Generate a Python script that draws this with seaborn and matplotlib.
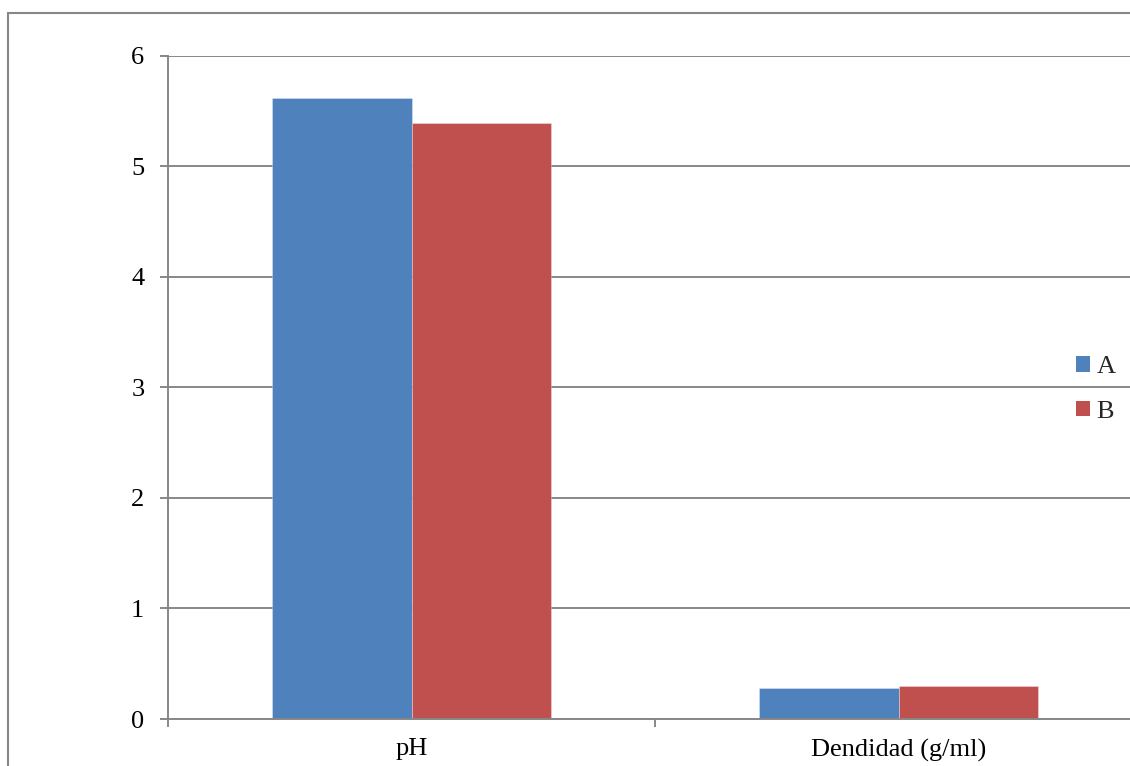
import matplotlib
matplotlib.use("Agg")
import matplotlib.pyplot as plt
from matplotlib.patches import Rectangle
from matplotlib.ticker import FixedLocator
import seaborn as sns
import pandas as pd

# Data
categories = ["pH", "Dendidad (g/ml)"]
series = ["A", "B"]
values_a = [5.62, 0.28]
values_b = [5.39, 0.30]
y_ticks = [0, 1, 2, 3, 4, 5, 6]

df = pd.DataFrame({
    "categoria": categories * 2,
    "serie": [series[0]] * len(categories) + [series[1]] * len(categories),
    "valor": values_a + values_b,
})

sns.set_theme(style="white")
plt.rcParams["font.family"] = ["Liberation Serif", "DejaVu Serif"]

W, H, DPI = 1130, 766, 100
fig = plt.figure(figsize=(W / DPI, H / DPI), dpi=DPI)
fig.patch.set_facecolor("white")

grey = "#878787"
fs = 19

ax = fig.add_axes([168 / W, 47 / H, (1142 - 168) / W, (719 - 55.7) / H])
sns.barplot(
    data=df, x="categoria", y="valor", hue="serie", order=categories,
    hue_order=series, palette=["#4F81BD", "#C0504D"], width=0.571, gap=0,
    saturation=1, ax=ax, legend=True,
)
for p in ax.patches:
    p.set_edgecolor((1, 1, 1, 0.35))
    p.set_linewidth(0.6)

ax.set_xlim(-0.5, 1.5)
ax.set_ylim(0, 6)
ax.set_yticks(y_ticks)
ax.set_yticklabels([str(t) for t in y_ticks])
ax.set_xlabel("")
ax.set_ylabel("")

ax.yaxis.grid(True, color=grey, linewidth=1.4)
ax.xaxis.grid(False)
ax.set_axisbelow(True)

for side in ["top", "right"]:
    ax.spines[side].set_visible(False)
for side in ["left", "bottom"]:
    ax.spines[side].set_color(grey)
    ax.spines[side].set_linewidth(1.4)

ax.xaxis.set_minor_locator(FixedLocator([-0.5, 0.5, 1.5]))
ax.tick_params(axis="x", which="major", length=0, pad=14, labelsize=fs, colors="black")
ax.tick_params(axis="x", which="minor", bottom=True, length=6, width=1.4, color=grey, direction="out")
ax.tick_params(axis="y", which="major", left=True, length=6, width=1.4, color=grey,
               direction="out", pad=11, labelsize=fs, labelcolor="black")

leg = ax.legend(
    loc="center left", bbox_to_anchor=(1076 / W, 1 - 389.5 / H),
    bbox_transform=fig.transFigure, frameon=False, fontsize=fs,
    handlelength=0.52, handleheight=0.52, handletextpad=0.25,
    labelspacing=0.85, borderaxespad=0, borderpad=0,
)
for h in leg.legend_handles:
    h.set_edgecolor("none")

# Outer chart border
fig.patches.append(Rectangle((8 / W, -0.1), 1.2, (766 - 13) / H + 0.1,
                             transform=fig.transFigure, fill=False,
                             edgecolor=grey, linewidth=1.5, zorder=10))

fig.savefig("out.png", dpi=DPI, facecolor="white")
